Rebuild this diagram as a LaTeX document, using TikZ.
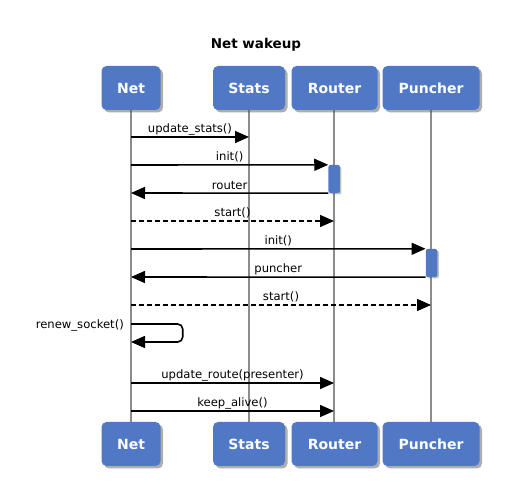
\documentclass[tikz,border=0pt]{standalone}
\usepackage{fontspec}
\setmainfont{DejaVu Sans}
\usetikzlibrary{arrows.meta,shadows,calc}
\definecolor{boxblue}{HTML}{5078C4}
\definecolor{lifegray}{HTML}{8C8C8C}
\begin{document}
\begin{tikzpicture}[x=1pt,y=-1pt,
  actor/.style={draw=none,fill=boxblue,rounded corners=5pt,minimum height=44pt,inner sep=0pt,
    text=white,font=\fontsize{14}{16}\selectfont\bfseries,
    drop shadow={shadow xshift=2.5pt,shadow yshift=-2.5pt,opacity=0.45,fill=black!70}},
  act/.style={draw=none,fill=boxblue,rounded corners=2pt,minimum width=11.5pt,inner sep=0pt,
    drop shadow={shadow xshift=1.5pt,shadow yshift=-1.5pt,opacity=0.35,fill=black!70}},
  life/.style={draw=lifegray,line width=1.6pt},
  msg/.style={draw=black,line width=1.6pt,-{Triangle[length=14pt,width=12pt]}},
  ret/.style={msg,dash pattern=on 5pt off 3pt},
  lbl/.style={font=\fontsize{11.6}{13}\selectfont,inner sep=0pt,anchor=center}
]
\useasboundingbox (0,0) rectangle (515,497);
% title
\node[font=\fontsize{13.5}{15}\selectfont\bfseries] (title) at (256,45) {Net wakeup};
% lifelines (behind)
\coordinate (netT) at (131,110); \coordinate (netB) at (131,422);
\coordinate (staT) at (249,110); \coordinate (staB) at (249,422);
\coordinate (rouT) at (334,110); \coordinate (rouB) at (334,422);
\coordinate (punT) at (431,110); \coordinate (punB) at (431,422);
\draw[life] (netT) -- (netB);
\draw[life] (staT) -- (staB);
\draw[life] (rouT) -- (rouB);
\draw[life] (punT) -- (punB);
% heads
\node[actor,minimum width=59pt] (net1) at (131,88) {Net};
\node[actor,minimum width=72pt] (sta1) at (249,88) {Stats};
\node[actor,minimum width=86pt] (rou1) at (334.5,88) {Router};
\node[actor,minimum width=97pt] (pun1) at (431,88) {Puncher};
\node[actor,minimum width=59pt] (net2) at (131,444) {Net};
\node[actor,minimum width=72pt] (sta2) at (249,444) {Stats};
\node[actor,minimum width=86pt] (rou2) at (334.5,444) {Router};
\node[actor,minimum width=97pt] (pun2) at (431,444) {Puncher};
% activations
\node[act,minimum height=28pt] (rouA) at (334.2,179) {};
\node[act,minimum height=28pt] (punA) at (431.5,263) {};
% message end points
\coordinate (a1) at (131,137); \coordinate (b1) at (249,137);
\coordinate (a2) at (131,165);   \coordinate (b2) at (rouA.north west);
\coordinate (a3) at (131,193);   \coordinate (b3) at (rouA.south west);
\coordinate (a4) at (131,221);   \coordinate (b4) at (334,221);
\coordinate (a5) at (131,249);   \coordinate (b5) at (punA.north west);
\coordinate (a6) at (131,277);   \coordinate (b6) at (punA.south west);
\coordinate (a7) at (131,305); \coordinate (b7) at (431,305);
\coordinate (s1) at (131,324); \coordinate (s2) at (182.7,324);
\coordinate (s3) at (182.7,342); \coordinate (s4) at (131,342);
\coordinate (a9) at (131,383); \coordinate (b9) at (334,383);
\coordinate (a10) at (131,411); \coordinate (b10) at (334,411);
% messages
\draw[msg] (a1) -- (b1) node[lbl,midway,yshift=8pt] (l1) {update\_stats()};
\draw[msg] (a2) -- (b2) node[lbl,midway,yshift=8pt] (l2) {init()};
\draw[msg] (b3) -- (a3) node[lbl,midway,yshift=8pt] (l3) {router};
\draw[ret] (a4) -- (b4) node[lbl,midway,yshift=8pt] (l4) {start()};
\draw[msg] (a5) -- (b5) node[lbl,midway,yshift=8pt] (l5) {init()};
\draw[msg] (b6) -- (a6) node[lbl,midway,yshift=8pt] (l6) {puncher};
\draw[ret] (a7) -- (b7) node[lbl,midway,yshift=8pt] (l7) {start()};
\draw[msg,rounded corners=5pt] (s1) -- (s2) -- (s3) -- (s4);
\node[lbl,anchor=east] (l8) at ($(s1)+(-7,1)$) {renew\_socket()};
\draw[msg] (a9) -- (b9) node[lbl,midway,yshift=8pt] (l9) {update\_route(presenter)};
\draw[msg] (a10) -- (b10) node[lbl,midway,yshift=8pt] (l10) {keep\_alive()};
\end{tikzpicture}
\end{document}
